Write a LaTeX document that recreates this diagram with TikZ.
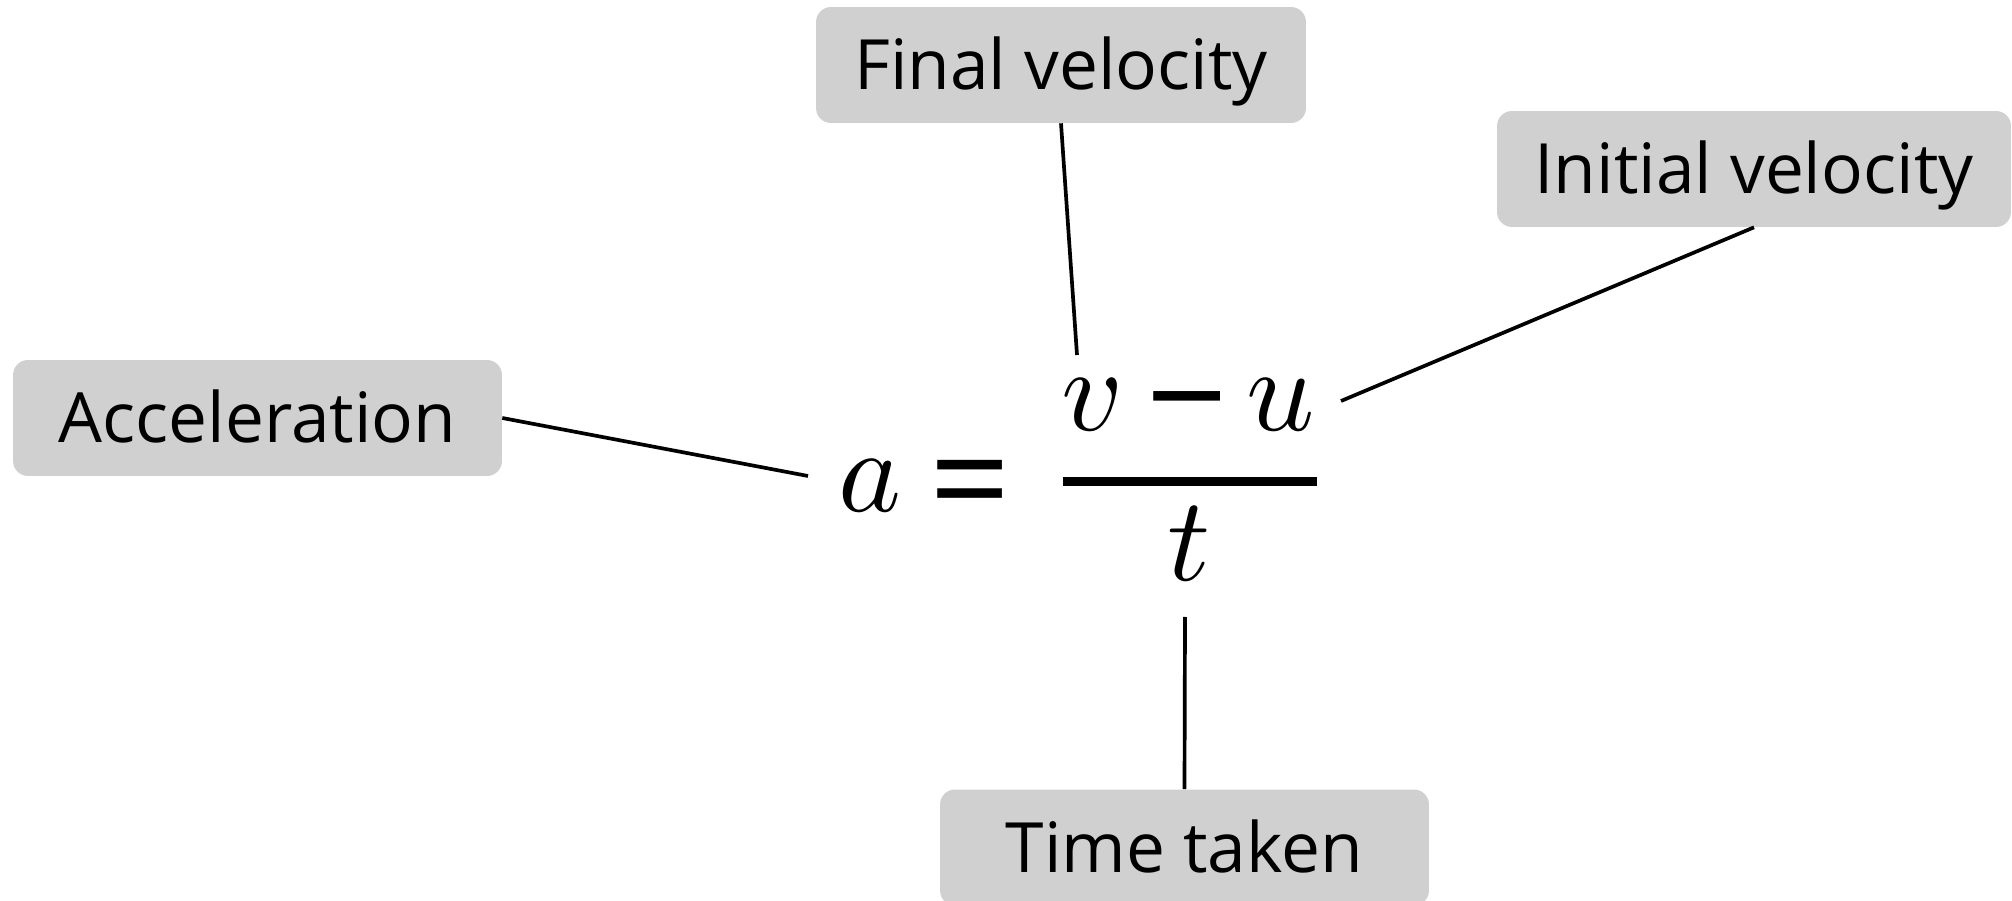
\documentclass[tikz,border=0pt]{standalone}
\usepackage{fontspec}
\setmainfont{Open Sans}[Ligatures=NoCommon]
\usepackage{graphicx}
\definecolor{boxgray}{RGB}{208,208,208}
\tikzset{
 lbl/.style={fill=boxgray, rounded corners=0.3cm, minimum height=2.32cm, inner sep=0pt, text height=0.99cm, text depth=0pt, font=\fontsize{39.5}{45}\selectfont},
 conn/.style={line width=2.1pt, black},
 mth/.style={inner sep=0pt, anchor=base},
 opr/.style={inner sep=0pt, anchor=base, font=\fontsize{81}{90}\selectfont},
}
\begin{document}
\begin{tikzpicture}[x=0.02cm,y=-0.02cm]
\useasboundingbox (0,0) rectangle (2012,901);
\node[lbl, minimum width=9.8cm] (fv) at (1061,65) {Final velocity};
\node[lbl, minimum width=10.28cm] (iv) at (1754,169) {Initial velocity};
\node[lbl, minimum width=9.78cm] (acc) at (257.5,418) {Acceleration};
\node[lbl, minimum width=9.78cm] (tt) at (1184.5,847.5) {Time taken};
% equation
\node[mth] (a) at (870,512) {\scalebox{6.8}{$a$}};
\node[opr] (eq) at (970,530) {=};
\node[mth] (v) at (1093,431) {\scalebox{6.8}{$v$}};
\node[opr] (minus) at (1187.5,447) {−};
\node[mth] (u) at (1281,431) {\scalebox{6.8}{$u$}};
\node[mth] (t) at (1189,581) {\scalebox{6.8}{$t$}};
\coordinate (barL) at (1063,481.5);
\coordinate (barR) at (1317,481.5);
\draw[line width=0.18cm] (barL) -- (barR);
% connectors
\coordinate (accEnd) at (808,476);
\coordinate (fvEnd) at (1077,355);
\coordinate (ivEnd) at (1341,401);
\coordinate (ttEnd) at (1185,617);
\draw[conn] (acc.east) -- (accEnd);
\draw[conn] (fv.south) -- (fvEnd);
\draw[conn] (iv.south) -- (ivEnd);
\draw[conn] (tt.north) -- (ttEnd);
\end{tikzpicture}
\end{document}
